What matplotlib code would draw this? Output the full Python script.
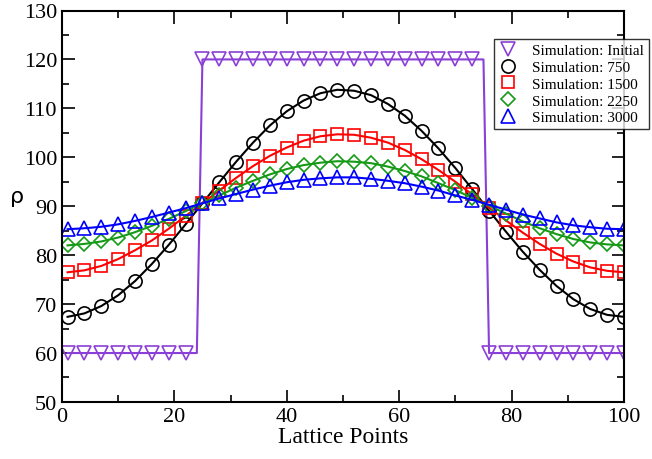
import matplotlib.pyplot as plt
import numpy as np

# lattice 1..100, markers every third point
lattice = np.arange(1, 101)
marker_x = [1, 4, 7, 10, 13, 16, 19, 22, 25, 28, 31, 34, 37, 40, 43, 46, 49,
            52, 55, 58, 61, 64, 67, 70, 73, 76, 79, 82, 85, 88, 91, 94, 97, 100]

initial = [60] * 24 + [120] * 51 + [60] * 25

sim_750 = [67.4, 68.1, 69.6, 71.8, 74.7, 78.2, 82.1, 86.3, 90.6, 94.9, 99.1, 103.0,
           106.5, 109.4, 111.6, 113.1, 113.8, 113.6, 112.7, 110.9, 108.5, 105.4,
           101.8, 97.8, 93.5, 89.1, 84.8, 80.7, 77.0, 73.7, 71.0, 69.0, 67.8, 67.4]
sim_1500 = [76.5, 76.9, 77.8, 79.2, 81.0, 83.0, 85.4, 88.0, 90.6, 93.2, 95.8, 98.2,
            100.3, 102.0, 103.4, 104.3, 104.7, 104.6, 104.0, 103.0, 101.5, 99.6,
            97.4, 95.0, 92.4, 89.7, 87.1, 84.6, 82.3, 80.3, 78.7, 77.5, 76.8, 76.5]
sim_2250 = [82.0, 82.3, 82.8, 83.6, 84.7, 86.0, 87.4, 89.0, 90.6, 92.2, 93.8, 95.2,
            96.5, 97.6, 98.4, 98.9, 99.2, 99.1, 98.8, 98.1, 97.2, 96.1, 94.7, 93.3,
            91.7, 90.1, 88.5, 86.9, 85.5, 84.3, 83.3, 82.6, 82.2, 82.0]
sim_3000 = [85.3, 85.5, 85.8, 86.3, 87.0, 87.8, 88.7, 89.6, 90.6, 91.6, 92.5, 93.4,
            94.2, 94.9, 95.4, 95.7, 95.9, 95.9, 95.6, 95.2, 94.7, 94.0, 93.2, 92.2,
            91.3, 90.3, 89.3, 88.3, 87.5, 86.7, 86.1, 85.7, 85.4, 85.3]

plt.rcParams['font.family'] = ['Liberation Serif', 'DejaVu Serif']

fig = plt.figure(figsize=(6.52, 4.60), dpi=100)
ax = fig.add_axes([0.095, 0.124, 0.862, 0.851])

purple = '#8a3fd6'
green = '#159a15'
ms = 9.5
lw = 1.5

ax.plot(lattice, initial, color=purple, lw=lw, marker='v', ms=ms, mfc='none',
        mec=purple, mew=1.2, markevery=3, label='Simulation: Initial')
ax.plot(marker_x, sim_750, color='black', lw=lw, marker='o', ms=ms, mfc='none',
        mew=1.2, label='Simulation: 750')
ax.plot(marker_x, sim_1500, color='red', lw=lw, marker='s', ms=ms - 0.5, mfc='none',
        mew=1.2, label='Simulation: 1500')
ax.plot(marker_x, sim_2250, color=green, lw=lw, marker='D', ms=ms - 2, mfc='none',
        mew=1.2, label='Simulation: 2250')
ax.plot(marker_x, sim_3000, color='blue', lw=lw, marker='^', ms=ms, mfc='none',
        mew=1.2, label='Simulation: 3000')

ax.set_xlim(0, 100)
ax.set_ylim(50, 130)
ax.set_xticks(np.arange(0, 101, 20))
ax.set_xticks(np.arange(0, 101, 10), minor=True)
ax.set_yticks(np.arange(50, 131, 10))
ax.set_yticks(np.arange(50, 131, 5), minor=True)
ax.tick_params(which='both', direction='in', top=True, right=True, labelsize=16, width=1.2)
ax.tick_params(which='major', length=9)
ax.tick_params(which='minor', length=5)
for s in ax.spines.values():
    s.set_linewidth(1.5)

ax.set_xlabel('Lattice Points', fontsize=17, labelpad=0)
ax.set_ylabel('ρ', fontsize=16, rotation=0, family=['DejaVu Sans'], labelpad=5)

leg = fig.legend(loc='upper left', bbox_to_anchor=(494 / 652, 1 - 40 / 460),
                 fontsize=11, frameon=True, fancybox=False, handlelength=1.2,
                 borderpad=0.3, labelspacing=0.2, handletextpad=1.0, borderaxespad=0)
leg.get_frame().set_edgecolor('black')
leg.get_frame().set_linewidth(1.0)
for h in leg.legend_handles:
    h.set_linestyle('none')

fig.savefig('out.png', dpi=100)
